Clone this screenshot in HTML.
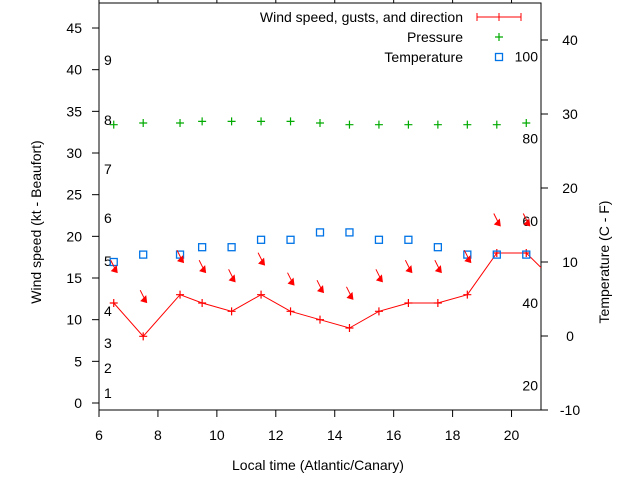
<!DOCTYPE html>
<html><head><meta charset="utf-8"><style>
body{margin:0;background:#fff}
svg{display:block;font-family:"Liberation Sans",sans-serif}
</style></head><body>
<svg id="c" width="640" height="480"></svg>
<script>
const times=[6.5,7.5,8.75,9.5,10.5,11.5,12.5,13.5,14.5,15.5,16.5,17.5,18.5,19.5,20.5,21.5];
const wind=[12,8,13,12,11,13,11,10,9,11,12,12,13,18,18,14.5];
const gust=[15.7,12.1,16.9,15.7,14.6,16.6,14.2,13.3,12.5,14.6,15.7,15.7,16.9,21.3,21.3];
const pressure=[33.4,33.6,33.6,33.8,33.8,33.8,33.8,33.6,33.4,33.4,33.4,33.4,33.4,33.4,33.6];
const temp=[10,11,11,12,12,13,13,14,14,13,13,12,11,11,11];
const xTicks=[6,8,10,12,14,16,18,20];
const yTicks=[0,5,10,15,20,25,30,35,40,45];
const y2Ticks=[-10,0,10,20,30,40];
const fTicks=[20,40,60,80,100];
const beaufort=[[1,393],[2,368],[3,343],[4,311],[5,261],[6,218],[7,169],[8,120],[9,60]];
const L=99,R=541,T=3,B=410;
const X=v=>L+(v-6)*(R-L)/15;
const Y=v=>403-v*8.333;
const Y2=c=>410-(c+10)*7.4;
const svg=document.getElementById('c');
const NS='http://www.w3.org/2000/svg';
function mk(tag,attrs,parent){const e=document.createElementNS(NS,tag);for(const k in attrs)e.setAttribute(k,attrs[k]);(parent||svg).appendChild(e);return e;}
function txt(x,y,s,anchor,name){const t=mk('text',{x:x,y:y,'font-size':14,'text-anchor':anchor||'middle',fill:'#000'});t.textContent=s;return t;}
const defs=mk('defs',{});
const clip=mk('clipPath',{id:'pc'},defs);mk('rect',{x:L,y:T,width:R-L,height:B-T},clip);
const bd=mk('rect',{x:L,y:T,width:R-L,height:B-T,fill:'none',stroke:'#000','stroke-width':1});

xTicks.forEach(v=>{const x=X(v);
 const t1=mk('line',{x1:x,y1:B,x2:x,y2:B+7,stroke:'#000'});
 const t2=mk('line',{x1:x,y1:T,x2:x,y2:T-4,stroke:'#000'});
 txt(x,440,String(v),'middle','x-tick-label');});
yTicks.forEach(v=>{const y=Y(v);
 const t=mk('line',{x1:L-7,y1:y,x2:L,y2:y,stroke:'#000'});
 txt(82,y+5,String(v),'end','y-tick-label');});
y2Ticks.forEach(v=>{const y=Y2(v);
 const t=mk('line',{x1:R,y1:y,x2:R+7,y2:y,stroke:'#000'});
 txt(570,y+5,String(v),'middle','y2-tick-label');});
fTicks.forEach(f=>{txt(538,Y2((f-32)*5/9)+5,String(f),'end','fahrenheit-label');});
beaufort.forEach(b=>{txt(104,b[1]+5,String(b[0]),'start','beaufort-label');});
txt(318,470,'Local time (Atlantic/Canary)','middle','x-axis-title');
const yt=txt(0,0,'Wind speed (kt - Beaufort)','middle','y-axis-title');yt.setAttribute('transform','translate(41,222) rotate(-90)');
const y2t=txt(0,0,'Temperature (C - F)','middle','y2-axis-title');y2t.setAttribute('transform','translate(609,262) rotate(-90)');
const g=mk('g',{'clip-path':'url(#pc)'});
const wl=mk('polyline',{points:times.map((t,i)=>X(t)+','+Y(wind[i])).join(' '),fill:'none',stroke:'#f00','stroke-width':1},g);

function plus(x,y,c,name){const p=mk('path',{d:`M${x-4},${y}h8M${x},${y-4}v8`,stroke:c,'stroke-width':1.2},g);}
times.forEach((t,i)=>plus(X(t),Y(wind[i]),'#f00','wind-point'));
pressure.forEach((p,i)=>plus(X(times[i]),Y(p),'#0a0','pressure-point'));
temp.forEach((c,i)=>{const s=mk('rect',{x:X(times[i])-3.5,y:Y2(c)-3.5,width:7,height:7,fill:'none',stroke:'#0073e6','stroke-width':1.3},g);
 });
gust.forEach((v,i)=>{const hx=X(times[i])+3,hy=Y(v);
 const a=mk('g',{},g);
 mk('line',{x1:hx-6,y1:hy-12,x2:hx,y2:hy,stroke:'#f00','stroke-width':1},a);
 mk('polygon',{points:`${hx+1},${hy+1} ${hx-6},${hy-1} ${hx},${hy-7}`,fill:'#f00'},a);});
txt(463,22,'Wind speed, gusts, and direction','end','legend-wind-label');
const lg=mk('path',{d:'M477,17h44M477,13v8M521,13v8M499,13v8',stroke:'#f00','stroke-width':1});
txt(463,42,'Pressure','end','legend-pressure-label');
const lp=mk('path',{d:'M495,37h8M499,33v8',stroke:'#0a0','stroke-width':1.2});
txt(463,62,'Temperature','end','legend-temperature-label');
const ls=mk('rect',{x:495.5,y:53.5,width:7,height:7,fill:'none',stroke:'#0073e6','stroke-width':1.3});
</script>
</body></html>
